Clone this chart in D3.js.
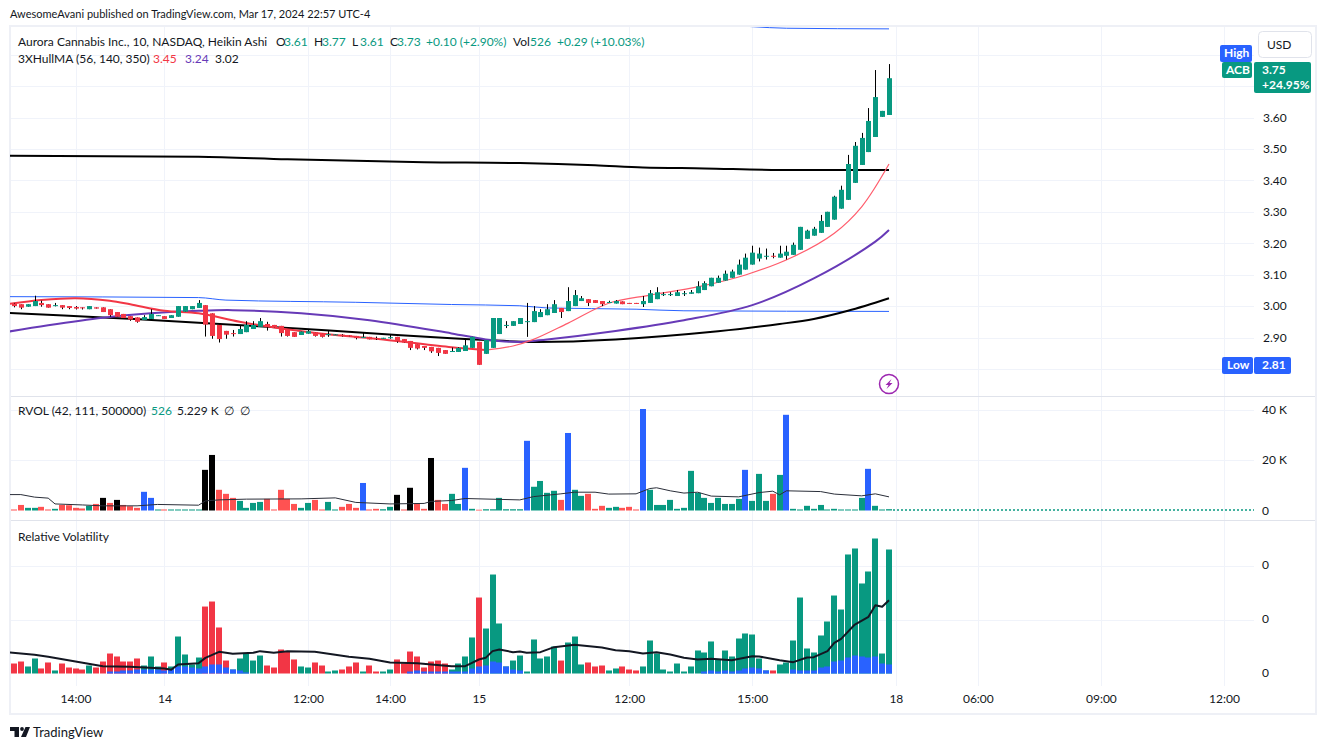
<!DOCTYPE html>
<html>
<head>
<meta charset="utf-8">
<title>ACB 10 min</title>
<script src="https://cdn.jsdelivr.net/npm/d3@7.9.0/dist/d3.min.js"></script>
<style>
  html, body { margin: 0; background: #fff; }
  svg { display: block; }
  text { font-family: Lato, sans-serif; font-size: 12px; fill: #131722; }
  .tick text { font-family: Lato, sans-serif; font-size: 12px; fill: #131722; }
</style>
</head>
<body>
<svg id="chart" width="1326" height="750"></svg>
<script>
// Heikin Ashi candles, one entry per 10 minute bar
const candleOpen = [
  3.008,3.006,2.998,3.000,3.010,3.006,3.001,3.003,3.000,2.997,
  2.996,2.990,2.996,2.996,2.990,2.981,2.975,2.968,2.964,2.956,
  2.959,2.969,2.968,2.962,2.966,2.982,2.990,2.994,3.003,2.977,
  2.940,2.921,2.914,2.911,2.917,2.927,2.934,2.943,2.940,2.937,
  2.927,2.917,2.908,2.912,2.917,2.914,2.909,2.908,2.909,2.907,
  2.905,2.899,2.902,2.898,2.896,2.898,2.902,2.895,2.889,2.879,
  2.873,2.870,2.867,2.860,2.855,2.854,2.857,2.867,2.886,2.848,
  2.867,2.911,2.937,2.937,2.943,2.950,2.949,2.965,2.971,2.978,
  2.994,2.984,3.000,3.016,3.022,3.019,3.016,3.011,3.008,3.015,
  3.010,3.010,3.006,3.010,3.022,3.036,3.036,3.032,3.039,3.039,
  3.041,3.051,3.063,3.074,3.081,3.090,3.100,3.116,3.132,3.151,
  3.158,3.160,3.154,3.160,3.163,3.179,3.214,3.224,3.233,3.252,
  3.275,3.310,3.338,3.392,3.449,3.490,3.538,3.602,3.608];
const candleClose = [
  3.000,2.995,3.006,3.016,3.003,2.995,3.003,2.995,2.994,2.992,
  2.993,3.000,2.992,2.981,2.971,2.966,2.962,2.957,2.950,2.965,
  2.975,2.971,2.959,2.971,3.000,3.000,3.000,3.010,2.941,2.905,
  2.895,2.909,2.912,2.927,2.940,2.940,2.952,2.933,2.932,2.914,
  2.905,2.902,2.919,2.920,2.905,2.902,2.911,2.910,2.905,2.903,
  2.898,2.902,2.894,2.896,2.899,2.901,2.887,2.884,2.867,2.865,
  2.867,2.856,2.851,2.848,2.857,2.867,2.875,2.902,2.813,2.892,
  2.962,2.962,2.940,2.952,2.962,2.952,2.984,2.981,2.990,3.006,
  2.981,3.016,3.035,3.025,3.010,3.010,3.006,3.013,3.016,3.006,
  3.007,3.007,3.016,3.041,3.044,3.038,3.038,3.044,3.041,3.044,
  3.063,3.073,3.090,3.090,3.103,3.110,3.132,3.154,3.170,3.167,
  3.160,3.158,3.167,3.173,3.195,3.252,3.240,3.246,3.271,3.300,
  3.348,3.370,3.452,3.510,3.535,3.589,3.665,3.621,3.725];
const candleHigh = [
  3.010,3.006,3.006,3.033,3.017,3.006,3.010,3.003,3.000,3.000,
  2.996,3.000,2.996,2.996,2.990,2.981,2.975,2.968,2.964,2.971,
  2.990,2.971,2.968,2.971,3.000,3.000,3.000,3.019,3.003,2.977,
  2.940,2.921,2.924,2.940,2.952,2.952,2.962,2.950,2.940,2.937,
  2.927,2.917,2.919,2.927,2.917,2.914,2.921,2.910,2.911,2.907,
  2.905,2.915,2.902,2.903,2.899,2.911,2.902,2.895,2.889,2.879,
  2.873,2.870,2.867,2.860,2.868,2.869,2.892,2.902,2.886,2.892,
  2.962,2.962,2.952,2.952,2.962,3.010,3.000,2.990,3.006,3.019,
  2.994,3.060,3.051,3.032,3.022,3.019,3.016,3.017,3.019,3.015,
  3.010,3.010,3.032,3.051,3.060,3.044,3.044,3.051,3.048,3.051,
  3.079,3.079,3.090,3.097,3.113,3.116,3.148,3.167,3.192,3.186,
  3.183,3.169,3.192,3.192,3.202,3.252,3.243,3.252,3.290,3.300,
  3.351,3.383,3.481,3.522,3.551,3.630,3.751,3.621,3.770];
const candleLow = [
  2.996,2.990,2.998,3.000,2.998,2.995,2.999,2.990,2.990,2.989,
  2.989,2.990,2.992,2.981,2.966,2.966,2.962,2.953,2.947,2.956,
  2.959,2.969,2.959,2.962,2.966,2.982,2.990,2.994,2.903,2.896,
  2.884,2.896,2.903,2.911,2.917,2.927,2.934,2.922,2.932,2.903,
  2.903,2.902,2.908,2.912,2.903,2.900,2.902,2.908,2.903,2.903,
  2.894,2.899,2.894,2.892,2.896,2.896,2.883,2.884,2.860,2.862,
  2.860,2.851,2.841,2.848,2.854,2.854,2.857,2.867,2.813,2.848,
  2.867,2.911,2.930,2.937,2.943,2.902,2.949,2.965,2.971,2.978,
  2.962,2.984,3.000,3.016,3.000,3.010,3.000,3.011,3.008,3.006,
  3.007,3.007,2.997,3.010,3.022,3.032,3.032,3.032,3.032,3.039,
  3.041,3.051,3.063,3.074,3.081,3.090,3.100,3.116,3.132,3.142,
  3.148,3.152,3.154,3.148,3.163,3.179,3.214,3.224,3.233,3.252,
  3.275,3.310,3.338,3.392,3.449,3.490,3.538,3.602,3.608];

// Moving average lines, read at the listed bars
const hull1Bars = [-1,4,9,14,17,22,27,33,39,47,54,64,69,73,76,81,87,93,100,107,114,120,124,128];
const hull1Values = [3.006,3.019,3.025,3.017,3.006,2.985,2.977,2.950,2.929,2.908,2.894,2.869,2.860,2.873,2.894,2.945,3.009,3.035,3.061,3.099,3.157,3.232,3.316,3.452];
const hull2Bars = [-1,5,13,20,27,32,42,52,64,69,74,78,88,98,108,117,126,128];
const hull2Values = [2.918,2.939,2.963,2.977,2.985,2.987,2.977,2.955,2.913,2.894,2.886,2.894,2.921,2.955,3.003,3.088,3.205,3.242];
const hull3Bars = [-1,13,27,42,56,64,69,76,88,103,112,117,122,128];
const hull3Values = [2.978,2.964,2.947,2.928,2.908,2.898,2.892,2.886,2.894,2.920,2.943,2.959,2.985,3.025];
const longBars = [-1,27,40,60,74,85,92,101,112,128];
const longValues = [3.478,3.475,3.467,3.458,3.455,3.448,3.441,3.438,3.433,3.433];
const blueBars = [-1,27,31,50,64,74,78,91,98,128];
const blueValues = [3.030,3.027,3.019,3.012,3.005,3.001,2.994,2.990,2.985,2.983];
const blueTopBars = [100,108,113,128];
const blueTopValues = [3.900,3.889,3.884,3.882];

// RVOL pane, values in thousands
const volValues = [
  .4,2.2,1.05,1.05,1.45,.4,.66,2.2,2.1,1.05,
  .8,1.85,2.6,5,3,4.2,2.2,1.7,1.05,7.4,
  5,.4,.4,.4,.4,.4,.4,.4,16.1,22,
  8.2,6.6,5,3.8,1.05,3,3.4,4.6,.4,8.2,
  4.6,2.6,1.05,3,4.2,.4,3.4,.4,1.45,2.6,
  1.05,10.9,.4,.66,.5,1.45,6.2,.4,9,2.9,
  .66,20.8,4.2,2.6,6.6,2.6,16.9,.66,.3,.5,
  .5,5,.5,.5,.5,27.6,9.4,11.7,7,7.8,
  4.2,30.7,8.2,5.8,6.6,.66,1.85,1.05,1.45,1.05,
  1.45,.4,40.2,8.2,2.2,2.2,4.2,.66,1.05,15.7,
  7,5,3,5,2.6,2.6,4.6,16.1,3.8,14.5,
  3.8,6.6,14.1,37.9,.66,.4,1.85,.66,2.2,.4,
  .66,.4,.4,.4,5,16.5,1.85,.4,.526];
// d = down, u = up, s = surge, x = extreme down
const volKinds = ("dduudduddd" + "dudxdxddds" + "suduuuuuxx" + "ddduuuuddd" + "dduudduudd" +
  "dsdduuxdxd" + "dxdduusudu" + "uuuuusuuuu" + "dsuuddduud" + "ddsuuuuuuu" +
  "uuuuuuusuu" + "udusuuuuuu" + "uuuuusuuu").split("");
const volAvgBars = [-1,1,3,5,6,10,13,18,21,27,28,30,34,42,47,50,55,60,61,64,66,74,76,80,82,85,87,91,93,94,96,98,100,102,106,109,111,112,113,118,120,124,126,128];
const volAvgValues = [6.3,6.3,5.3,4.9,2.6,2.2,1.85,1.85,2.4,2.1,3.8,4.2,4.5,4.6,5,3.2,2.6,2.8,3.6,3.96,4.75,4.2,5.5,6.6,7.25,7.25,6.5,6.6,8.7,9,7.8,6.9,7.25,5.7,5.4,7.1,7.65,6.2,7.8,7.5,6.5,5.8,6.6,5.4];

// Relative Volatility pane
const rvMain = [
  .185,.222,.13,.278,.093,.204,.056,.185,.111,.093,
  .074,.148,.111,.222,.37,.315,.222,.222,.278,.148,
  .315,.13,.204,.13,.685,.352,.167,.296,1.24,1.333,
  .852,.24,.074,.278,.37,.24,.333,.148,.111,.444,
  .407,.26,.13,.111,.204,.148,.037,.056,.074,.13,
  .204,.037,.148,.037,.037,.074,.26,.185,.407,.315,
  .111,.222,.24,.185,.074,.185,.315,.667,1.407,.833,
  1.833,.926,.13,.24,.333,.037,.63,.278,.315,.5,
  .24,.574,.685,.167,.204,.13,.148,.056,.093,.13,
  .074,.056,.13,.611,.37,.074,.037,.185,.037,.13,
  .426,.389,.593,.26,.426,.315,.648,.741,.722,.278,
  .056,.056,.167,.204,.611,1.407,.463,.389,.704,.963,
  1.444,1.185,2.204,2.315,1.667,1.889,2.5,.37,2.296];
const rvBlue = [
  0,0,0,0,0,0,0,0,0,0,
  0,0,0,0,.037,.037,.056,.056,.074,.074,
  .074,.074,.056,.074,.13,.13,.111,.093,.13,.167,
  .167,.111,.074,.056,.02,0,0,0,0,0,
  0,0,0,0,0,0,0,0,0,0,
  0,0,0,0,0,0,0,0,.037,.056,
  .037,.037,.037,.037,.037,.037,.037,.093,.13,.148,
  .222,.204,.13,.074,.056,0,0,0,0,0,
  0,0,0,0,0,0,0,0,0,0,
  0,0,0,0,0,0,0,0,0,0,
  0,.037,.056,.037,.056,.037,.056,.093,.111,.093,
  .056,0,0,0,.074,.056,.056,.056,.111,.13,
  .222,.241,.296,.333,.315,.296,.315,.185,.167];
const rvKinds = ("dduudduddd" + "dudddddddu" + "uuduuuuudd" + "dduuuuuddd" + "dduudduudd" +
  "dudduudddd" + "dddduuuudu" + "uuuuuuuuuu" + "duuuddduud" + "dduuuuuuuu" +
  "uuuuuuuuuu" + "uduuuuuuuu" + "uuuuuuuuu").split("");
const rvAvgBars = [-1,3,5,9,13,17,22,23,24,27,28,30,32,35,36,38,40,44,49,52,55,59,64,66,67,68,69,70,71,73,74,75,77,79,82,86,88,90,92,94,96,98,100,102,105,108,109,112,114,116,117,119,120,121,123,125,126,127,128];
const rvAvgValues = [.395,.346,.309,.222,.136,.123,.093,.068,.167,.191,.29,.401,.364,.383,.414,.383,.414,.401,.309,.272,.204,.191,.136,.136,.198,.259,.29,.414,.444,.395,.407,.383,.395,.488,.531,.481,.432,.414,.37,.395,.352,.29,.259,.272,.247,.321,.315,.247,.21,.296,.302,.414,.568,.642,.907,1.049,1.265,1.235,1.358];

// Axis labels
const priceTicks = [2.9,3.0,3.1,3.2,3.3,3.4,3.5,3.6];
const priceGrid = [2.8,2.9,3.0,3.1,3.2,3.3,3.4,3.5,3.6,3.7,3.8];
const volTicks = [0,20,40];
const rvTicks = [0,1,2];
const timeBars = [9,22,43,55,68,90,108,129,141,159,177];
const timeLabels = ["14:00","14","12:00","14:00","15","12:00","15:00","18","06:00","09:00","12:00"];

const width = 1326, height = 750;
const plotLeft = 10, plotRight = 1254, frameRight = 1316;
const up = "#089981", down = "#f23645", volDown = "#ff5252", blue = "#2962ff", purple = "#673ab7", ink = "#131722";
const gridColor = "#f0f3fa", borderColor = "#e0e3eb";

const svg = d3.select("#chart");

// Scales
const x = d3.scaleLinear().domain([0, 128]).range([14, 889]);
const yPrice = d3.scaleLinear().domain([2.9, 3.6]).range([337.5, 117.5]);
const yVol = d3.scaleLinear().domain([0, 40]).range([510.5, 409.5]);
const yRv = d3.scaleLinear().domain([0, 2]).range([673.5, 565.5]);

// Clip each pane to its own area
const defs = svg.append("defs");
function addClip(id, top, bottom) {
  defs.append("clipPath").attr("id", id).append("rect")
    .attr("x", plotLeft).attr("y", top).attr("width", plotRight - plotLeft).attr("height", bottom - top);
}
addClip("price-clip", 27, 396);
addClip("vol-clip", 398, 520);
addClip("rv-clip", 522, 684);

// Grid
const grid = svg.append("g").attr("stroke", gridColor).attr("stroke-width", 1);
function hGrid(values, scale) {
  grid.selectAll(null).data(values).join("line")
    .attr("x1", plotLeft).attr("x2", plotRight)
    .attr("y1", d => Math.round(scale(d)) + .5).attr("y2", d => Math.round(scale(d)) + .5);
}
hGrid(priceGrid, yPrice);
hGrid([20, 40], yVol);
hGrid([1, 2], yRv);
grid.selectAll(null).data(timeBars).join("line")
  .attr("x1", d => Math.round(x(d)) + .5).attr("x2", d => Math.round(x(d)) + .5)
  .attr("y1", 27).attr("y2", 686);

// Frame and pane separators
const frame = svg.append("g").attr("fill", "none");
frame.append("rect").attr("x", 10).attr("y", 26).attr("width", frameRight - 10).attr("height", 688)
  .attr("stroke", "#eef0f6").attr("stroke-width", 2);
frame.append("line").attr("x1", 11).attr("x2", frameRight - 1).attr("y1", 396.5).attr("y2", 396.5).attr("stroke", borderColor);
frame.append("line").attr("x1", 11).attr("x2", frameRight - 1).attr("y1", 520.5).attr("y2", 520.5).attr("stroke", borderColor);

function drawLine(parent, bars, values, scale, color, lineWidth, curve) {
  const line = d3.line().x((d, i) => x(bars[i])).y(d => scale(d)).curve(curve);
  parent.append("path").datum(values)
    .attr("fill", "none").attr("stroke", color).attr("stroke-width", lineWidth)
    .attr("stroke-linejoin", "round").attr("d", line);
}

// Price pane
const pricePane = svg.append("g").attr("clip-path", "url(#price-clip)");
drawLine(pricePane, blueTopBars, blueTopValues, yPrice, blue, 1, d3.curveMonotoneX);
drawLine(pricePane, blueBars, blueValues, yPrice, blue, 1, d3.curveMonotoneX);
drawLine(pricePane, longBars, longValues, yPrice, "#000", 2, d3.curveMonotoneX);
drawLine(pricePane, hull3Bars, hull3Values, yPrice, "#000", 2, d3.curveCatmullRom);
drawLine(pricePane, hull2Bars, hull2Values, yPrice, purple, 2, d3.curveCatmullRom);
// the short average thins out after the first session
const thinFrom = hull1Bars.indexOf(69);
drawLine(pricePane, hull1Bars.slice(0, thinFrom + 1), hull1Values.slice(0, thinFrom + 1), yPrice, down, 2, d3.curveCatmullRom);
drawLine(pricePane, hull1Bars.slice(thinFrom), hull1Values.slice(thinFrom), yPrice, "#ff5c6c", 1.2, d3.curveCatmullRom);

const candles = pricePane.append("g");
const isUp = i => candleClose[i] >= candleOpen[i];
candles.selectAll("line").data(candleOpen).join("line")
  .attr("x1", (d, i) => Math.round(x(i)) + .5).attr("x2", (d, i) => Math.round(x(i)) + .5)
  .attr("y1", (d, i) => yPrice(candleHigh[i])).attr("y2", (d, i) => yPrice(candleLow[i]))
  .attr("stroke", "#000").attr("stroke-width", 1);
candles.selectAll("rect").data(candleOpen).join("rect")
  .attr("x", (d, i) => Math.round(x(i)) - 2).attr("width", 5)
  .attr("y", (d, i) => yPrice(Math.max(d, candleClose[i])))
  .attr("height", (d, i) => Math.max(1, Math.abs(yPrice(d) - yPrice(candleClose[i]))))
  .attr("fill", (d, i) => isUp(i) ? up : down);

// RVOL pane
const volColors = { d: volDown, u: up, s: blue, x: "#000" };
const volPane = svg.append("g").attr("clip-path", "url(#vol-clip)");
volPane.selectAll("rect").data(volValues).join("rect")
  .attr("x", (d, i) => Math.round(x(i)) - 3).attr("width", 6)
  .attr("y", d => yVol(d)).attr("height", d => yVol(0) - yVol(d))
  .attr("fill", (d, i) => volColors[volKinds[i]]);
volPane.append("line").attr("x1", x(128) + 4).attr("x2", plotRight)
  .attr("y1", 510).attr("y2", 510)
  .attr("stroke", up).attr("stroke-width", 1.5).attr("stroke-dasharray", "2 2");
drawLine(volPane, volAvgBars, volAvgValues, yVol, "#2a2e39", 1, d3.curveLinear);

// Relative Volatility pane
const rvPane = svg.append("g").attr("clip-path", "url(#rv-clip)");
rvPane.selectAll("rect.main").data(rvMain).join("rect").attr("class", "main")
  .attr("x", (d, i) => Math.round(x(i)) - 3).attr("width", 6)
  .attr("y", d => yRv(d)).attr("height", d => yRv(0) - yRv(d))
  .attr("fill", (d, i) => rvKinds[i] === "u" ? up : down);
rvPane.selectAll("rect.low").data(rvBlue).join("rect").attr("class", "low")
  .attr("x", (d, i) => Math.round(x(i)) - 3).attr("width", 6)
  .attr("y", d => yRv(d)).attr("height", d => yRv(0) - yRv(d))
  .attr("fill", blue);
drawLine(rvPane, rvAvgBars, rvAvgValues, yRv, ink, 2, d3.curveLinear);

// Axes
function styleAxis(g) {
  g.select(".domain").remove();
  g.selectAll(".tick line").remove();
}
svg.append("g").attr("transform", "translate(1263,0)")
  .call(d3.axisRight(yPrice).tickValues(priceTicks).tickFormat(d3.format(".2f")).tickSize(0).tickPadding(0))
  .call(styleAxis);
svg.append("g").attr("transform", "translate(1262,0)")
  .call(d3.axisRight(yVol).tickValues(volTicks).tickFormat(d => d === 0 ? "0" : d + " K").tickSize(0).tickPadding(0))
  .call(styleAxis);
svg.append("g").attr("transform", "translate(1262,-1)")
  .call(d3.axisRight(yRv).tickValues(rvTicks).tickFormat(() => "0").tickSize(0).tickPadding(0))
  .call(styleAxis);
svg.append("g").attr("transform", "translate(0,700)")
  .call(d3.axisBottom(x).tickValues(timeBars).tickFormat((d, i) => timeLabels[i]).tickSize(0).tickPadding(-6))
  .call(styleAxis);

// Header and legends
svg.append("text").attr("x", 10).attr("y", 18).style("font-size", "11px")
  .text("AwesomeAvani published on TradingView.com, Mar 17, 2024 22:57 UTC-4");

function legend(y, parts) {
  const t = svg.append("text").attr("y", y);
  parts.forEach(([s, left, color]) => t.append("tspan").attr("x", left).style("fill", color || ink).text(s));
}
legend(46, [["Aurora Cannabis Inc., 10, NASDAQ, Heikin Ashi", 18], ["O", 276], ["3.61", 284, up], ["H", 314], ["3.77", 322, up],
  ["L", 352], ["3.61", 360, up], ["C", 390], ["3.73", 397, up], ["+0.10 (+2.90%)", 426, up], ["Vol", 513], ["526", 530, up], ["+0.29 (+10.03%)", 557, up]]);
legend(63, [["3XHullMA (56, 140, 350)", 18], ["3.45", 153, down], ["3.24", 185, purple], ["3.02", 215]]);
legend(415, [["RVOL (42, 111, 500000)", 18], ["526", 151, up], ["5.229 K", 177], ["∅", 224], ["∅", 240]]);
legend(541, [["Relative Volatility", 18]]);

// Price scale labels
function tag(left, top, w, h, fill, lines, textX) {
  svg.append("rect").attr("x", left).attr("y", top).attr("width", w).attr("height", h).attr("rx", 2).attr("fill", fill);
  lines.forEach((s, i) => svg.append("text").attr("x", textX).attr("y", top + 12 + i * 15)
    .style("fill", "#fff").style("font-weight", 700).text(s));
}
svg.append("rect").attr("x", 1258.5).attr("y", 31.5).attr("width", 53).attr("height", 26).attr("rx", 4)
  .attr("fill", "#fff").attr("stroke", borderColor);
svg.append("text").attr("x", 1267).attr("y", 49).text("USD");
tag(1220, 45, 32, 17, blue, ["High"], 1224);
tag(1222, 62, 30, 16, up, ["ACB"], 1226);
tag(1254, 62, 57, 31, up, ["3.75", "+24.95%"], 1262);
tag(1222, 357, 31, 17, blue, ["Low"], 1227);
tag(1254, 357, 37, 17, blue, ["2.81"], 1262);

// Lightning marker
const bolt = svg.append("g").attr("transform", `translate(${x(128)},384)`);
bolt.append("circle").attr("r", 9.5).attr("fill", "#fff").attr("stroke", "#9c27b0").attr("stroke-width", 1.5);
bolt.append("path").attr("d", "M2.5,-5 L-3.5,1 L-0.5,1 L-2.5,5 L3.5,-1 L0.5,-1 Z").attr("fill", "#9c27b0");

// TradingView mark
svg.append("path").attr("fill", ink)
  .attr("d", "M10,727 H19 V737 H14.5 V731 H10 Z M25.5,727 H30 L26,737 H21 Z");
svg.append("circle").attr("cx", 22).attr("cy", 729).attr("r", 1.9).attr("fill", ink);
svg.append("text").attr("x", 33).attr("y", 737).style("font-size", "13px").text("TradingView");
</script>
</body>
</html>
